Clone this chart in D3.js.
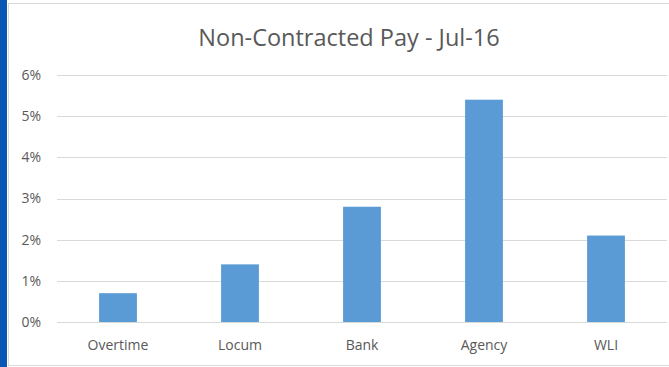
<!DOCTYPE html>
<html>
<head>
<meta charset="utf-8">
<script src="https://cdn.jsdelivr.net/npm/d3@7"></script>
<style>
  html, body { margin: 0; padding: 0; background: #fff; }
  svg { display: block; }
  text { font-family: "Open Sans", "Liberation Sans", sans-serif; fill: #595959; }
</style>
</head>
<body>
<div id="chart"></div>
<script>
// chart data
const categories = ['Overtime', 'Locum', 'Bank', 'Agency', 'WLI'];
const values = [0.007, 0.014, 0.028, 0.054, 0.021];
const yTicks = [0, 0.01, 0.02, 0.03, 0.04, 0.05, 0.06];
const title = 'Non-Contracted Pay - Jul-16';

const width = 669
    , height = 367
    , margin = { top: 75, right: 2, bottom: 45, left: 57 }
    ;

const svg = d3.select('#chart')
  .append('svg')
    .attr('width', width)
    .attr('height', height);

// left accent strip and chart frame
svg.append('rect')
    .attr('x', 0).attr('y', 0)
    .attr('width', 7).attr('height', height)
    .attr('fill', '#0a56b4');

svg.append('rect')
    .attr('x', 8.5).attr('y', 3.5)
    .attr('width', width - 8).attr('height', 362)
    .attr('fill', 'none')
    .attr('stroke', '#d9d9d9');

const x = d3.scaleBand()
    .domain(categories)
    .range([margin.left, width - margin.right])
    .paddingInner(0.69)
    .paddingOuter(0.345);

const y = d3.scaleLinear()
    .domain([0, 0.06])
    .range([height - margin.bottom, margin.top]);

// gridlines
svg.append('g')
  .selectAll('line')
  .data(yTicks)
  .join('line')
    .attr('x1', margin.left)
    .attr('x2', width - margin.right)
    .attr('y1', d => Math.round(y(d)) + 0.5)
    .attr('y2', d => Math.round(y(d)) + 0.5)
    .attr('stroke', '#d9d9d9');

// y axis labels
const yAxis = svg.append('g')
    .attr('transform', `translate(${margin.left},0)`)
    .call(d3.axisLeft(y).tickValues(yTicks).tickFormat(d3.format('.0%')).tickSize(0).tickPadding(16));
yAxis.select('.domain').remove();
yAxis.selectAll('text')
    .attr('font-size', 14)
    .attr('font-family', null)
    .attr('fill', '#595959');

// x axis labels
const xAxis = svg.append('g')
    .attr('transform', `translate(0,${height - margin.bottom})`)
    .call(d3.axisBottom(x).tickSize(0).tickPadding(18));
xAxis.select('.domain').remove();
xAxis.selectAll('text')
    .attr('font-size', 14)
    .attr('font-family', null)
    .attr('fill', '#595959');

// bars
svg.append('g')
  .selectAll('rect')
  .data(values)
  .join('rect')
    .attr('x', (d, i) => x(categories[i]))
    .attr('width', x.bandwidth())
    .attr('y', d => y(d))
    .attr('height', d => y(0) - y(d))
    .attr('fill', '#5b9bd5');

svg.append('text')
    .attr('x', 349)
    .attr('y', 46)
    .attr('text-anchor', 'middle')
    .attr('font-size', 23.5)
    .text(title);
</script>
</body>
</html>
